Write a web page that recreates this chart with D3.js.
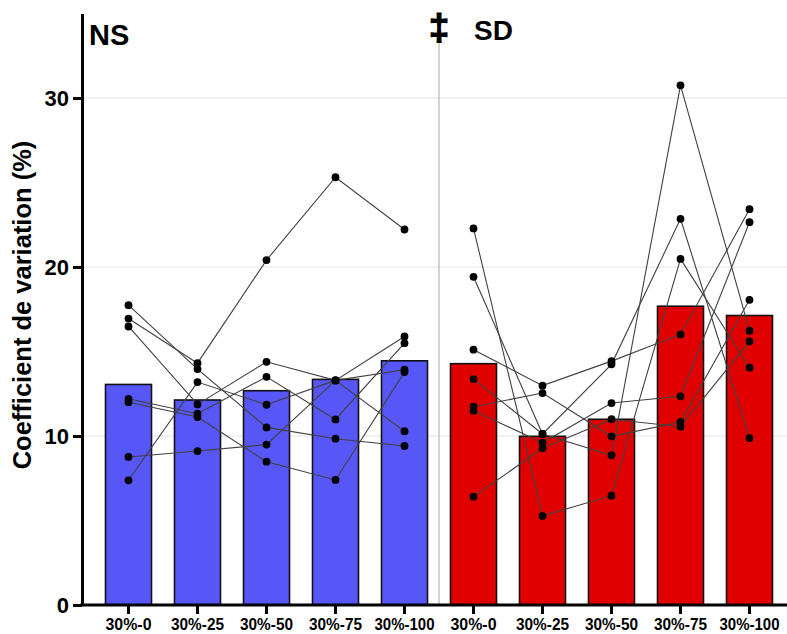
<!DOCTYPE html>
<html><head><meta charset="utf-8">
<script src="https://cdn.jsdelivr.net/npm/d3@7"></script>
<style>
body{margin:0;background:#fff;}
text{font-family:"Liberation Sans",Arial,sans-serif;font-weight:bold;}
</style></head>
<body><svg id="c" width="787" height="634"></svg>
<script>
const categories = ["30%-0","30%-25","30%-50","30%-75","30%-100"];
const groups = ["NS","SD"];
const nsMeans = [13.05,12.13,12.68,13.35,14.45];
const sdMeans = [14.28,9.98,10.99,17.68,17.13];
const nsSubjects = [
  [17.74,13.96,10.51,9.84,9.41],
  [16.95,14.31,20.41,25.31,22.22],
  [16.48,11.87,14.39,13.29,15.89],
  [12.20,11.32,13.50,10.98,15.49],
  [12.00,11.12,8.48,7.40,13.78],
  [8.76,9.11,9.49,13.29,10.28],
  [7.38,13.19,11.85,13.29,13.92]
];
const sdSubjects = [
  [22.28,5.27,6.47,20.48,14.04],
  [19.42,10.12,14.24,22.85,9.88],
  [15.11,12.98,14.43,16.01,23.42],
  [13.37,10.12,8.86,30.75,16.23],
  [11.73,12.54,9.98,10.83,18.06],
  [11.50,9.60,11.95,12.35,22.65],
  [6.41,9.27,10.99,10.55,15.60]
];
const yTicks = [0,10,20,30];
const yTitle = "Coefficient de variation (%)";
const separatorMark = "\u2021";
const colors = {NS:"#5757F7", SD:"#E10000"};

const svg = d3.select("#c");
const W = 787, H = 634;
const axisX = 82;
const y = d3.scaleLinear().domain([0,35]).range([605,13.5]);
const keys = [];
groups.forEach(g => categories.forEach(c => keys.push(g+"|"+c)));
const x = d3.scaleBand().domain(keys).range([94,784]).paddingInner(1/3).paddingOuter(1/6);

// gridlines
svg.append("g").selectAll("line").data(yTicks.filter(d=>d>0)).join("line")
  .attr("x1",axisX).attr("x2",W).attr("y1",d=>y(d)).attr("y2",d=>y(d))
  .attr("stroke","#e3e3e3").attr("stroke-width",1.2);

// separator
const sepX = (x("NS|30%-100")+x.bandwidth() + x("SD|30%-0"))/2;
svg.append("line").attr("x1",sepX).attr("x2",sepX).attr("y1",y(33.5)).attr("y2",y(0))
  .attr("stroke","#c8c8c8").attr("stroke-width",1.6);

// bars
const barData = [];
groups.forEach(g => categories.forEach((c,i) => barData.push({g, c, v:(g==="NS"?nsMeans:sdMeans)[i]})));
svg.append("g").selectAll("rect").data(barData).join("rect")
  .attr("x",d=>x(d.g+"|"+d.c)).attr("width",x.bandwidth())
  .attr("y",d=>y(d.v)).attr("height",d=>y(0)-y(d.v))
  .attr("fill",d=>colors[d.g]).attr("stroke","#111").attr("stroke-width",1.6);

// subject lines & points
const line = d3.line().x(d=>d[0]).y(d=>d[1]);
const cx = (g,i) => x(g+"|"+categories[i]) + x.bandwidth()/2;
const allSubj = [];
nsSubjects.forEach(s => allSubj.push({g:"NS", vals:s}));
sdSubjects.forEach(s => allSubj.push({g:"SD", vals:s}));
svg.append("g").selectAll("path").data(allSubj).join("path")
  .attr("d",d=>line(d.vals.map((v,i)=>[cx(d.g,i), y(v)])))
  .attr("fill","none").attr("stroke","#404040").attr("stroke-width",1.1);
const pts = [];
allSubj.forEach(s => s.vals.forEach((v,i)=>pts.push({g:s.g,i,v})));
svg.append("g").selectAll("circle").data(pts).join("circle")
  .attr("cx",d=>cx(d.g,d.i)).attr("cy",d=>y(d.v)).attr("r",3.9).attr("fill","#000");

// y axis
const yAxis = svg.append("g").attr("transform",`translate(${axisX},0)`)
  .call(d3.axisLeft(y).tickValues(yTicks).tickSize(9).tickSizeOuter(0).tickPadding(4));
yAxis.select(".domain").attr("stroke","#000").attr("stroke-width",3);
yAxis.selectAll(".tick line").attr("stroke","#000").attr("stroke-width",3);
yAxis.selectAll(".tick text").attr("font-size",22).attr("fill","#000")
  .attr("font-family","Liberation Sans, Arial, sans-serif").attr("font-weight","bold");

// x axis
const xAxis = svg.append("g").attr("transform",`translate(0,${y(0)})`)
  .call(d3.axisBottom(x).tickSize(9).tickSizeOuter(0).tickPadding(5).tickFormat(d=>d.split("|")[1]));
xAxis.select(".domain").remove();
xAxis.selectAll(".tick line").attr("stroke","#000").attr("stroke-width",3);
xAxis.selectAll(".tick text").attr("font-size",16).attr("fill","#000")
  .attr("font-family","Liberation Sans, Arial, sans-serif").attr("font-weight","bold")
  .attr("textLength",d=>{const n=d.split("|")[1].length; return n>6?60:(n>5?53:46);})
  .attr("lengthAdjust","spacingAndGlyphs");
svg.append("line").attr("x1",axisX-1.5).attr("x2",W).attr("y1",y(0)).attr("y2",y(0))
  .attr("stroke","#000").attr("stroke-width",3);

// title
svg.append("text").attr("transform",`translate(31,305) rotate(-90)`)
  .attr("text-anchor","middle").attr("font-size",25.5).text(yTitle);

// group labels
svg.append("text").attr("x",89).attr("y",45).attr("font-size",29).text(groups[0]);
svg.append("text").attr("x",474).attr("y",40).attr("font-size",28).text(groups[1]);
svg.append("text").attr("x",sepX).attr("y",40).attr("text-anchor","middle").attr("font-size",37)
  .attr("stroke","#000").attr("stroke-width",1.2).text(separatorMark);
</script></body></html>
